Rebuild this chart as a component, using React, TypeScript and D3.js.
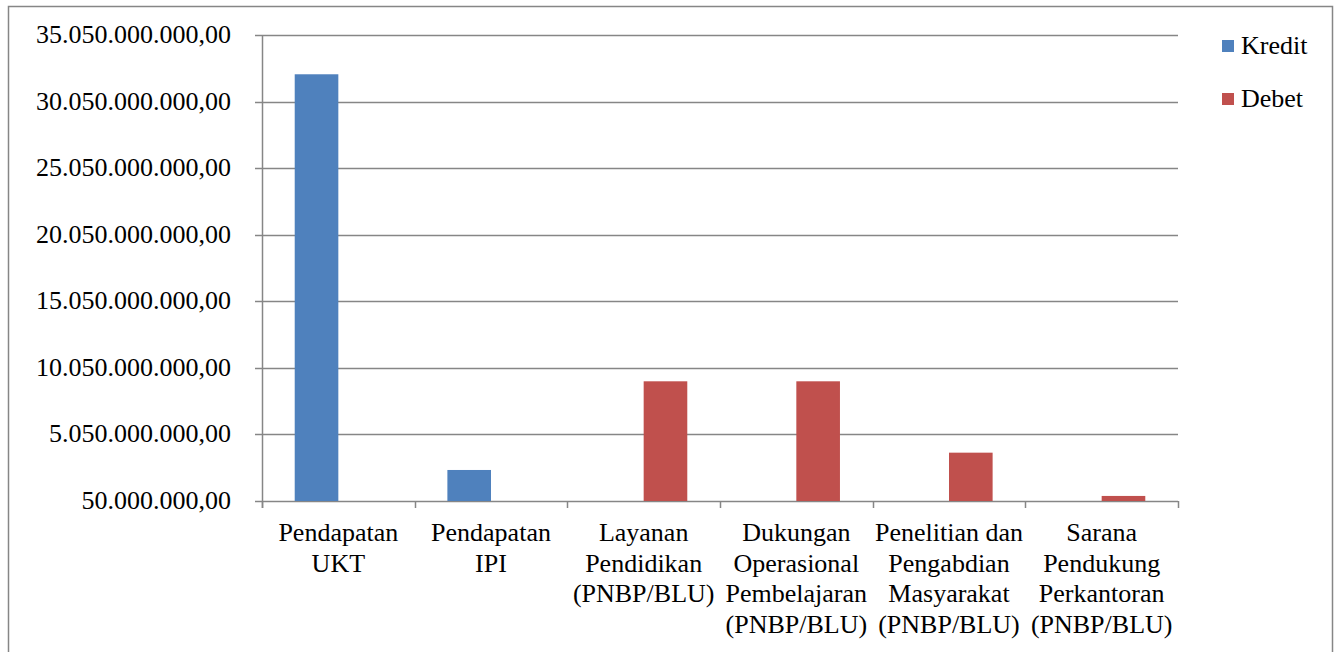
import React, { useEffect, useRef } from 'react';
import * as d3 from 'd3';

// chart data
const categories = [
  ['Pendapatan', 'UKT'],
  ['Pendapatan', 'IPI'],
  ['Layanan', 'Pendidikan', '(PNBP/BLU)'],
  ['Dukungan', 'Operasional', 'Pembelajaran', '(PNBP/BLU)'],
  ['Penelitian dan', 'Pengabdian', 'Masyarakat', '(PNBP/BLU)'],
  ['Sarana', 'Pendukung', 'Perkantoran', '(PNBP/BLU)'],
];
const kredit = [32100000000, 2380000000, 0, 0, 0, 0];
const debet = [0, 0, 9040000000, 9040000000, 3680000000, 430000000];
const seriesNames = ['Kredit', 'Debet'];
const seriesColors = ['#4F81BD', '#C0504D'];
const yTicks = [50000000, 5050000000, 10050000000, 15050000000, 20050000000, 25050000000, 30050000000, 35050000000];

const fmt = (v: number) => {
  const s = Math.round(v).toString().replace(/\B(?=(\d{3})+(?!\d))/g, '.');
  return s + ',00';
};

const App = () => {
  const ref = useRef<SVGSVGElement>(null);

  useEffect(() => {
    const svg = d3.select(ref.current);
    svg.selectAll('*').remove();

    const font = "'Liberation Serif', 'DejaVu Serif', serif";
    const left = 262, right = 1178, top = 35, bottom = 501;
    const grey = '#868686';

    // outer frame
    svg.append('rect')
      .attr('x', 8.5).attr('y', 6.5)
      .attr('width', 1324).attr('height', 700)
      .attr('fill', 'none').attr('stroke', grey).attr('stroke-width', 1.5);

    const x = d3.scaleBand<number>()
      .domain(d3.range(categories.length))
      .range([left, right]);

    const y = d3.scaleLinear()
      .domain([yTicks[0], yTicks[yTicks.length - 1]])
      .range([bottom, top]);

    // gridlines + ticks
    const g = svg.append('g');
    g.selectAll('line.grid')
      .data(yTicks)
      .enter()
      .append('line')
        .attr('x1', left - 7).attr('x2', right)
        .attr('y1', d => Math.round(y(d)) + 0.5).attr('y2', d => Math.round(y(d)) + 0.5)
        .attr('stroke', grey).attr('stroke-width', 1.5);

    g.selectAll('text.ylab')
      .data(yTicks)
      .enter()
      .append('text')
        .attr('x', 231)
        .attr('y', d => y(d) + 8)
        .attr('text-anchor', 'end')
        .style('font-family', font)
        .style('font-size', '26px')
        .attr('fill', '#000')
        .text(d => fmt(d));

    // bars
    const bw = x.bandwidth() / 3.5;
    const series = [kredit, debet];
    series.forEach((vals, si) => {
      svg.append('g').selectAll('rect')
        .data(vals)
        .enter()
        .append('rect')
          .attr('x', (_, i) => (x(i) as number) + bw * 0.75 + si * bw)
          .attr('y', d => y(Math.max(d, yTicks[0])))
          .attr('width', bw)
          .attr('height', d => bottom - y(Math.max(d, yTicks[0])))
          .attr('fill', seriesColors[si]);
    });

    // axes lines
    svg.append('line')
      .attr('x1', left + 0.5).attr('x2', left + 0.5)
      .attr('y1', top).attr('y2', bottom + 7)
      .attr('stroke', grey).attr('stroke-width', 1.5);

    svg.append('g').selectAll('line')
      .data(d3.range(categories.length + 1))
      .enter()
      .append('line')
        .attr('x1', i => Math.round(left + i * x.step()) + 0.5)
        .attr('x2', i => Math.round(left + i * x.step()) + 0.5)
        .attr('y1', bottom).attr('y2', bottom + 7)
        .attr('stroke', grey).attr('stroke-width', 1.5);

    // category labels
    categories.forEach((lines, i) => {
      const t = svg.append('text')
        .attr('text-anchor', 'middle')
        .style('font-family', font)
        .style('font-size', '26px')
        .attr('fill', '#000');
      lines.forEach((ln, li) => {
        t.append('tspan')
          .attr('x', (x(i) as number) + x.bandwidth() / 2)
          .attr('y', 541 + li * 30.5)
          .text(ln);
      });
    });

    // legend
    const lg = svg.append('g');
    seriesNames.forEach((name, i) => {
      const cy = 46 + i * 53;
      lg.append('rect')
        .attr('x', 1222).attr('y', cy - 6)
        .attr('width', 12).attr('height', 12)
        .attr('fill', seriesColors[i]);
      lg.append('text')
        .attr('x', 1241).attr('y', cy + 8)
        .style('font-family', font)
        .style('font-size', '26px')
        .attr('fill', '#000')
        .text(name);
    });
  }, []);

  return (
    <svg ref={ref} width={1338} height={652}
      style={{ position: 'absolute', left: 0, top: 0, background: '#fff' }} />
  );
};

export default App;
